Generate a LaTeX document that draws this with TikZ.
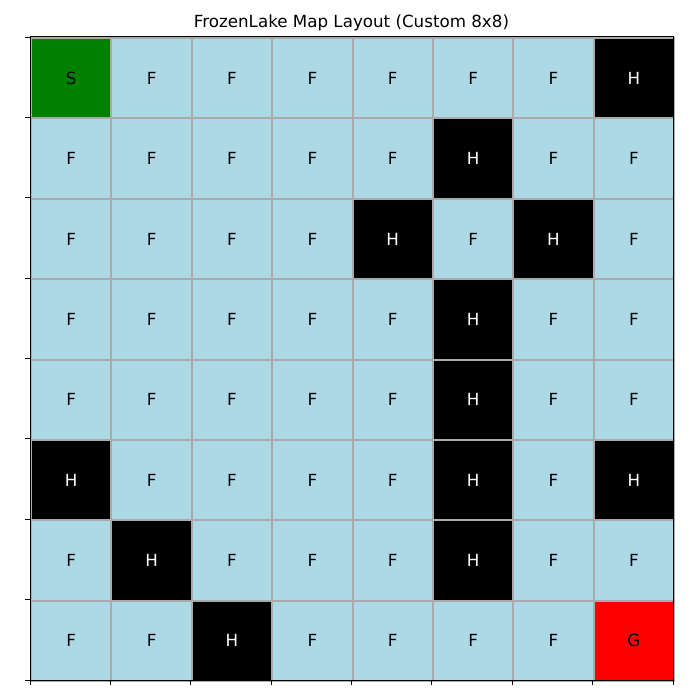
\documentclass[tikz,border=0pt]{standalone}
\usepackage{fontspec}
\setmainfont{DejaVu Sans}
\definecolor{lakeblue}{RGB}{173,216,230}
\definecolor{startgreen}{RGB}{0,128,0}
\definecolor{goalred}{RGB}{255,0,0}
\definecolor{gridgray}{RGB}{170,170,170}
\begin{document}
\begin{tikzpicture}[x=1pt,y=-1pt,
  cellbase/.style={draw=gridgray, line width=2pt, minimum width=80.375pt, minimum height=80.375pt, inner sep=0pt, anchor=north west, font=\fontsize{16.7}{20}\selectfont},
  cellS/.style={cellbase, fill=startgreen, text=black},
  cellF/.style={cellbase, fill=lakeblue, text=black},
  cellH/.style={cellbase, fill=black, text=white},
  cellG/.style={cellbase, fill=goalred, text=black},
  tick/.style={black, line width=0.8pt}]
\useasboundingbox (0,0) rectangle (700,700);
\fill[white] (0,0) rectangle (700,700);
\node[font=\fontsize{16.7}{20}\selectfont] (title) at (351.5,23) {FrozenLake Map Layout (Custom 8x8)};
\foreach \row [count=\r from 0] in {{S,F,F,F,F,F,F,H},{F,F,F,F,F,H,F,F},{F,F,F,F,H,F,H,F},{F,F,F,F,F,H,F,F},{F,F,F,F,F,H,F,F},{H,F,F,F,F,H,F,H},{F,H,F,F,F,H,F,F},{F,F,H,F,F,F,F,G}}{
  \foreach \c [count=\k from 0] in \row {
    \node[cell\c] (c-\r-\k) at ({30+80.375*\k},{37+80.375*\r}) {\c};
  }
}
\coordinate (tl) at (30,37);
\coordinate (br) at (673,680);
\draw[black, line width=1pt] (tl) rectangle (br);
\foreach \i in {0,...,8}{
  \draw[tick] ({30+80.375*\i},680) -- ++(0,5);
  \draw[tick] (30,{37+80.375*\i}) -- ++(-5,0);
}
\end{tikzpicture}
\end{document}
